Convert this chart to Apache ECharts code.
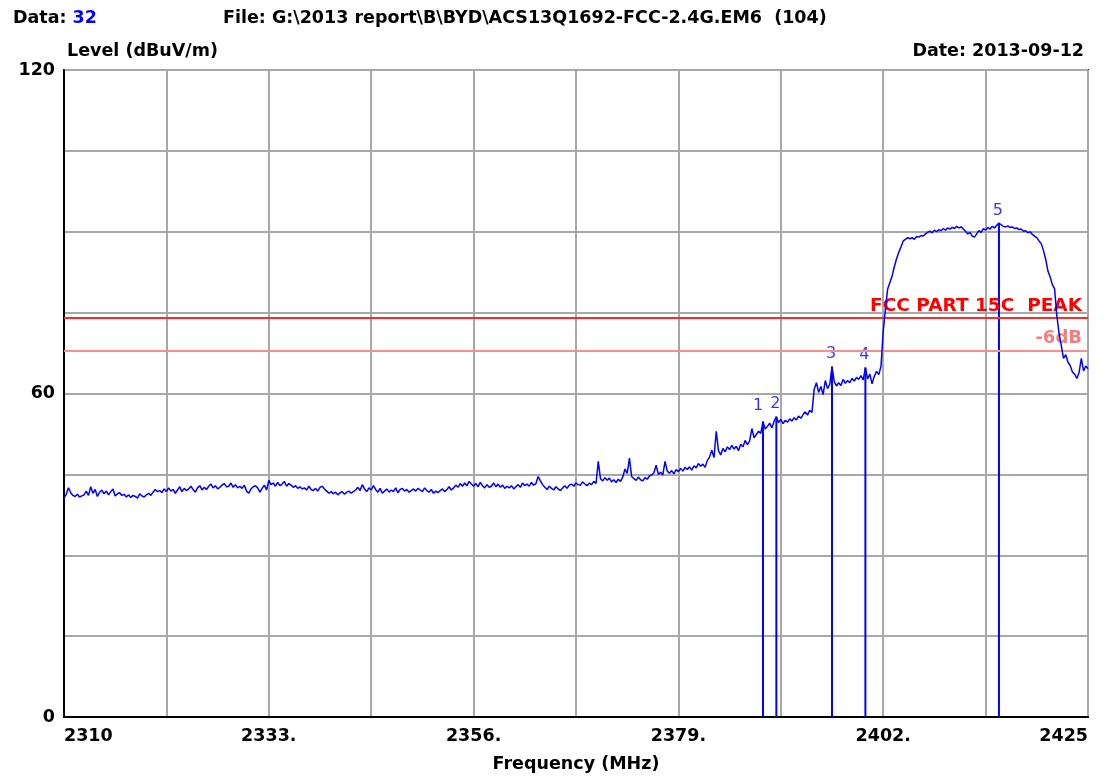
<!DOCTYPE html>
<html>
<head>
<meta charset="utf-8">
<script src="https://cdn.jsdelivr.net/npm/echarts@6/dist/echarts.min.js"></script>
<style>
html,body{margin:0;padding:0;background:#fff;}
#chart{width:1107px;height:778px;}
</style>
</head>
<body>
<div id="chart"></div>
<script>
// ---- data ----
const freqStart = 2310;   // MHz, first sweep point
const freqStop = 2425;    // MHz
const freqStep = 0.25;    // MHz between sweep points
const level = [
 40.6,41.3,42.5,41.6, 41.1,40.9,41.3,40.8, 41.0,41.2,41.9,41.1, 42.7,41.5,42.2,40.9,
 41.7,42.1,41.4,41.9, 41.2,41.8,42.3,41.0, 41.4,41.6,41.1,41.3, 40.8,41.2,40.7,41.1,
 40.9,40.6,41.4,41.0, 40.8,41.2,41.5,41.1, 41.7,42.2,41.8,42.0, 41.6,42.3,41.8,42.5,
 41.9,42.2,41.5,42.1, 42.7,41.8,42.4,42.0, 42.3,42.8,42.2,41.7, 42.5,42.9,42.1,42.6,
 42.2,42.8,43.2,42.5, 42.9,42.3,42.6,43.0, 43.3,42.7,42.8,43.4, 42.6,43.1,42.5,42.8,
 42.4,43.0,41.9,41.5, 42.3,42.7,42.9,42.5, 41.7,42.4,43.0,42.1, 43.9,43.1,43.4,42.8,
 43.5,42.9,43.2,43.7, 42.8,43.3,43.0,42.6, 42.9,42.4,42.7,42.3, 42.5,42.1,42.8,42.2,
 42.0,42.4,41.9,42.6, 42.8,42.3,41.9,41.5, 41.8,41.4,41.7,41.2, 41.6,41.8,41.3,41.7,
 41.9,41.5,41.8,42.1, 42.6,42.0,43.1,42.3, 41.8,42.5,42.1,42.9, 42.2,41.7,42.4,41.5,
 41.9,42.3,41.7,42.1, 41.8,42.5,41.6,42.2, 42.4,41.9,42.2,41.7, 42.0,42.3,41.9,42.4,
 42.1,41.8,42.5,42.0, 41.7,42.2,41.5,41.9, 41.6,42.0,42.3,41.8, 42.2,42.7,42.1,42.5,
 43.0,42.6,43.3,42.8, 43.4,42.9,43.7,43.2, 42.8,43.3,42.7,43.5, 42.9,42.5,43.1,42.6,
 42.8,43.4,42.7,43.2, 42.6,43.0,42.4,42.8, 42.5,42.9,42.3,42.7, 43.1,42.6,43.4,42.9,
 43.2,42.8,43.5,43.0, 43.3,44.6,43.8,43.1, 42.6,42.2,42.8,42.4, 42.1,42.7,42.3,42.0,
 42.5,42.9,42.4,43.0, 43.2,42.8,43.4,43.1, 43.0,43.6,43.2,42.9, 43.4,43.1,43.7,43.3,
 47.4,44.2,43.8,44.4, 43.9,44.3,43.6,44.0, 43.5,44.1,43.7,44.5, 46.0,45.2,48.0,44.6,
 44.2,43.9,44.5,44.0, 43.8,44.4,44.1,44.7, 44.9,45.3,46.7,45.0, 45.4,44.9,47.4,45.6,
 45.2,45.7,45.1,45.9, 45.5,46.1,45.6,46.3, 45.9,46.4,45.8,46.6, 46.2,47.0,46.5,46.9,
 46.3,47.6,48.2,49.5, 48.1,53.0,49.4,48.6, 49.8,49.2,50.1,49.6, 50.4,49.7,50.2,49.4,
 50.6,50.1,51.3,50.5, 51.2,53.5,51.8,52.4, 53.0,52.6,54.8,53.4, 53.9,54.5,53.6,54.9,
 55.7,54.6,55.2,54.4, 55.0,54.7,55.3,54.9, 55.5,55.1,55.8,55.4, 56.1,56.6,56.0,56.9,
 56.5,60.8,62.0,60.2, 61.3,59.8,62.4,60.9, 61.7,65.0,62.2,61.4, 62.0,61.5,62.6,61.9,
 62.4,62.0,62.8,62.3, 63.0,62.6,63.3,62.5, 64.8,62.7,63.6,61.8, 63.2,64.1,63.5,65.0,
 71.5,75.6,79.4,80.6, 81.8,83.5,85.0,86.2, 87.2,88.3,88.6,88.9, 88.7,88.9,88.6,89.1,
 89.0,89.3,89.2,89.6, 89.9,90.1,89.8,90.3, 90.0,90.4,90.2,90.6, 90.3,90.7,90.5,90.8,
 90.6,91.0,90.7,90.9, 90.5,90.1,89.6,89.9, 89.2,89.0,89.6,90.2, 89.9,90.6,90.3,90.8,
 90.5,91.0,90.7,91.2, 91.6,91.3,91.0,90.9, 91.1,90.8,90.9,90.6, 90.7,90.4,90.5,90.1,
 90.2,89.8,90.0,89.5, 89.2,88.9,88.3,87.8, 86.5,84.9,82.7,81.6, 80.2,79.4,74.4,71.2,
 68.9,66.5,67.2,65.8, 65.2,64.0,63.6,62.8, 63.9,66.5,64.2,65.1, 64.6
];
const markerNames = ['1', '2', '3', '4', '5'];
const markerFreq = [2388.5, 2390.0, 2396.25, 2400.0, 2415.0];
const markerLevel = [54.8, 55.7, 65.0, 64.8, 91.6];
const limitName = 'FCC PART 15C  PEAK';
const limitLevel = 74;
const marginName = '-6dB';
const marginLevel = 68;
const xTickValues = [2310, 2333, 2356, 2379, 2402, 2425];
const xTickText = ['2310', '2333.', '2356.', '2379.', '2402.', '2425'];
const yTickValues = [0, 60, 120];
const yTickText = ['0', '60', '120'];
const dataNo = '32';
const fileText = 'File: G:\\2013 report\\B\\BYD\\ACS13Q1692-FCC-2.4G.EM6  (104)';
const dateText = 'Date: 2013-09-12';
const yTitle = 'Level (dBuV/m)';
const xTitle = 'Frequency (MHz)';

// ---- build ----
const FONT = 'DejaVu Sans';
const FS = 17.5;
const span = freqStop - freqStart;
const trace = level.map((v, i) => [i * freqStep, v]);
const markerSeries = markerFreq.map((f, i) => ({
  type: 'line', silent: true, symbol: 'none', animation: false,
  lineStyle: { color: '#0000ff', width: 2 },
  data: [[f - freqStart, 0], [f - freqStart, markerLevel[i]]],
  z: 3
}));
const markerLabels = {
  type: 'scatter', silent: true, symbolSize: 1, animation: false,
  itemStyle: { color: 'rgba(0,0,0,0)' },
  label: {
    show: true, position: 'top', distance: 4,
    formatter: p => p.value[2],
    fontFamily: FONT, fontSize: 16, color: '#0000ff'
  },
  data: markerFreq.map((f, i) => ({
    value: [f - freqStart, markerLevel[i], markerNames[i]],
    label: { offset: [i === 0 ? -5 : -1, i === 0 ? -3 : 0] }
  })),
  z: 4
};

const chart = echarts.init(document.getElementById('chart'), null, { renderer: 'canvas' });
const titleStyle = { fontFamily: FONT, fontSize: FS, fontWeight: 'bold', color: '#000' };
chart.setOption({
  animation: false,
  backgroundColor: '#fff',
  title: [
    { text: '{a|Data: }{b|' + dataNo + '}', left: 8, top: 4,
      textStyle: { rich: {
        a: { fontFamily: FONT, fontSize: FS, fontWeight: 'bold', color: '#000' },
        b: { fontFamily: FONT, fontSize: FS, fontWeight: 'bold', color: '#0000ff' } } } },
    { text: fileText, left: 218, top: 4, textStyle: titleStyle },
    { text: yTitle, left: 62, top: 37, textStyle: titleStyle },
    { text: dateText, right: 18, top: 37, textStyle: titleStyle }
  ],
  grid: { left: 64, right: 19, top: 70, bottom: 58, show: true,
          borderColor: '#333', borderWidth: 2, backgroundColor: '#fff' },
  xAxis: {
    type: 'value', min: 0, max: span, interval: span / 10,
    name: xTitle, nameLocation: 'middle', nameGap: 38,
    nameTextStyle: { fontFamily: FONT, fontSize: FS, fontWeight: 'bold', color: '#000' },
    axisLine: { show: true, lineStyle: { color: '#000', width: 2 } },
    axisTick: { show: false },
    splitLine: { show: true, lineStyle: { color: '#a8a8a8', width: 2 } },
    axisLabel: {
      margin: 10, fontFamily: FONT, fontSize: FS, fontWeight: 'bold', color: '#000',
      alignMinLabel: 'left', alignMaxLabel: 'right',
      formatter: v => {
        const i = xTickValues.findIndex(t => Math.abs(t - freqStart - v) < 0.01);
        return i >= 0 ? xTickText[i] : '';
      }
    }
  },
  yAxis: {
    type: 'value', min: 0, max: 120, interval: 15,
    axisLine: { show: true, lineStyle: { color: '#000', width: 2 } },
    axisTick: { show: false },
    splitLine: { show: true, lineStyle: { color: '#a8a8a8', width: 2 } },
    axisLabel: {
      margin: 9, fontFamily: FONT, fontSize: FS, fontWeight: 'bold', color: '#000',
      formatter: v => {
        const i = yTickValues.findIndex(t => Math.abs(t - v) < 0.01);
        return i >= 0 ? yTickText[i] : '';
      }
    }
  },
  series: [
    {
      type: 'line', data: trace, symbol: 'none', silent: true,
      lineStyle: { color: '#0000ff', width: 1.5 }, z: 5,
      markLine: {
        silent: true, symbol: 'none', animation: false,
        data: [
          { yAxis: limitLevel,
            lineStyle: { color: '#ff2a2a', width: 2, type: 'solid' },
            label: { show: true, position: 'insideEndTop', distance: [6, 2], formatter: limitName,
                     fontFamily: FONT, fontSize: 18.5, fontWeight: 'bold', color: '#ff0000' } },
          { yAxis: marginLevel,
            lineStyle: { color: '#f49090', width: 2, type: 'solid' },
            label: { show: true, position: 'insideEndTop', distance: [6, 3], formatter: marginName,
                     fontFamily: FONT, fontSize: 18, fontWeight: 'bold', color: '#f08080' } }
        ]
      }
    },
    ...markerSeries,
    markerLabels
  ]
});
</script>
</body>
</html>
